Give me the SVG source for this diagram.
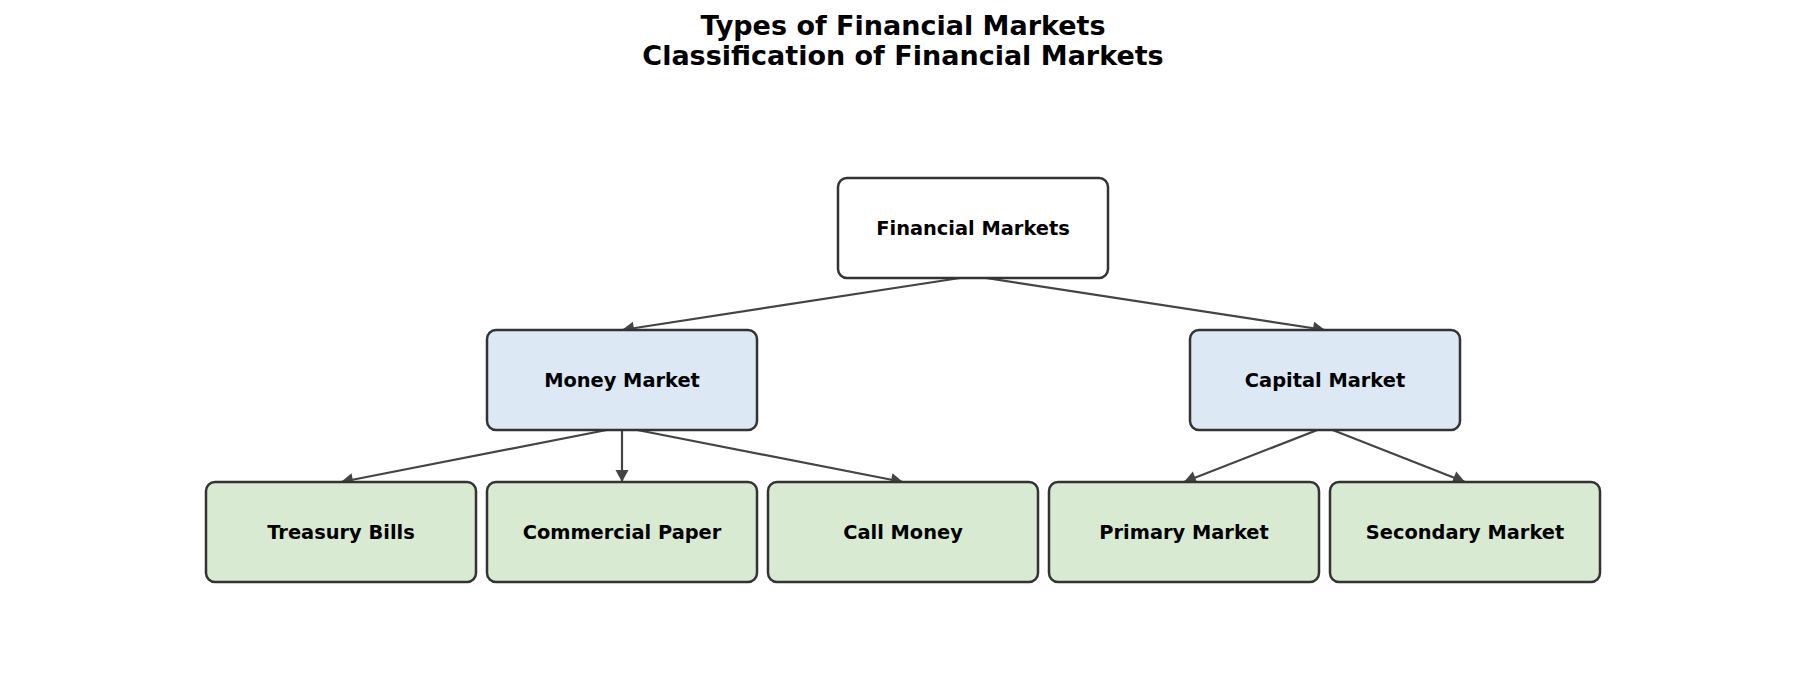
<svg xmlns="http://www.w3.org/2000/svg" width="1805" height="699" viewBox="0 0 1805 699">
<style>
.title{font-family:"DejaVu Sans",sans-serif;font-weight:bold;font-size:27px;fill:#000;text-anchor:middle}
.box{stroke:#333;stroke-width:2.5}
.root{fill:#ffffff}
.mid{fill:#dce8f3}
.leaf{fill:#d9ead3}
.lbl{font-family:"DejaVu Sans",sans-serif;font-weight:bold;font-size:19.4px;fill:#000;text-anchor:middle;dominant-baseline:central}
.edge{stroke:#444;stroke-width:2.2;fill:none;marker-end:url(#arr)}
</style>
<defs>
<marker id="arr" markerUnits="userSpaceOnUse" markerWidth="15" markerHeight="15" viewBox="0 0 15 15" refX="13" refY="7.5" orient="auto">
<path d="M1,1 L13,7.5 L1,14 Z" fill="#444"/>
</marker>
</defs>
<rect width="1805" height="699" fill="#fff"/>
<g id="title">
<text class="title" x="903" y="35">Types of Financial Markets</text>
<text class="title" x="903" y="65">Classification of Financial Markets</text>
</g>
<g id="connectors">
<line class="edge" x1="973" y1="276" x2="622" y2="330"/>
<line class="edge" x1="973" y1="276" x2="1325" y2="330"/>
<line class="edge" x1="622" y1="427" x2="341" y2="482"/>
<line class="edge" x1="622" y1="427" x2="622" y2="482"/>
<line class="edge" x1="622" y1="427" x2="903" y2="482"/>
<line class="edge" x1="1325" y1="427" x2="1184" y2="482"/>
<line class="edge" x1="1325" y1="427" x2="1465" y2="482"/>
</g>
<g id="financial-markets">
<rect class="box root" x="838" y="178" width="270" height="100" rx="9"/>
<text class="lbl" x="973" y="228">Financial Markets</text>
</g>
<g id="money-market">
<rect class="box mid" x="487" y="330" width="270" height="100" rx="9"/>
<text class="lbl" x="622" y="380">Money Market</text>
</g>
<g id="capital-market">
<rect class="box mid" x="1190" y="330" width="270" height="100" rx="9"/>
<text class="lbl" x="1325" y="380">Capital Market</text>
</g>
<g id="treasury-bills">
<rect class="box leaf" x="206" y="482" width="270" height="100" rx="9"/>
<text class="lbl" x="341" y="532">Treasury Bills</text>
</g>
<g id="commercial-paper">
<rect class="box leaf" x="487" y="482" width="270" height="100" rx="9"/>
<text class="lbl" x="622" y="532">Commercial Paper</text>
</g>
<g id="call-money">
<rect class="box leaf" x="768" y="482" width="270" height="100" rx="9"/>
<text class="lbl" x="903" y="532">Call Money</text>
</g>
<g id="primary-market">
<rect class="box leaf" x="1049" y="482" width="270" height="100" rx="9"/>
<text class="lbl" x="1184" y="532">Primary Market</text>
</g>
<g id="secondary-market">
<rect class="box leaf" x="1330" y="482" width="270" height="100" rx="9"/>
<text class="lbl" x="1465" y="532">Secondary Market</text>
</g>
</svg>
